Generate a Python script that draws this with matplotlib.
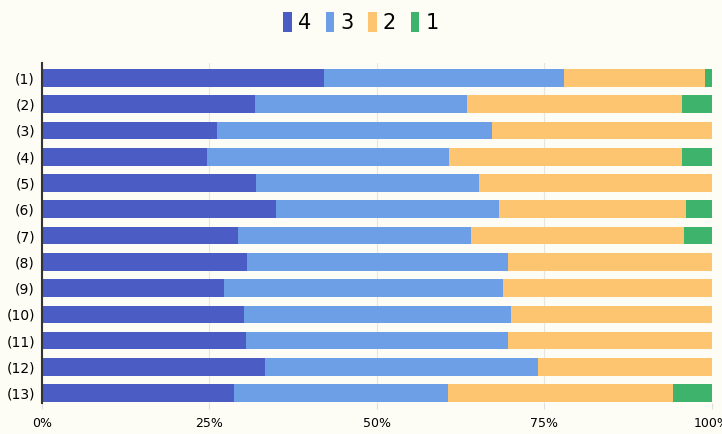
import numpy as np
import matplotlib.pyplot as plt

labels = ["(1)", "(2)", "(3)", "(4)", "(5)", "(6)", "(7)",
          "(8)", "(9)", "(10)", "(11)", "(12)", "(13)"]
# shares of each answer (% of bar)
s4 = [42.1, 31.8, 26.1, 24.6, 32.0, 34.9, 29.3, 30.6, 27.2, 30.1, 30.4, 33.3, 28.7]
s3 = [35.8, 31.7, 41.1, 36.1, 33.3, 33.4, 34.8, 39.0, 41.6, 39.9, 39.2, 40.8, 31.9]
s2 = [21.0, 32.1, 32.8, 34.9, 34.7, 27.9, 31.8, 30.4, 31.2, 30.0, 30.4, 25.9, 33.6]
s1 = [1.1, 4.4, 0.0, 4.4, 0.0, 3.8, 4.1, 0.0, 0.0, 0.0, 0.0, 0.0, 5.8]
series_names = ["4", "3", "2", "1"]
colors = ["#4b5cc4", "#6c9fe6", "#fdc56f", "#3db36c"]

bg = "#fdfdf6"
fig = plt.figure(figsize=(7.22, 4.34), dpi=100, facecolor=bg)
ax = fig.add_axes([0.058, 0.071, 0.928, 0.784], facecolor=bg)

y = np.arange(len(labels))
left = np.zeros(len(labels))
handles = []
for vals, name, c in zip([s4, s3, s2, s1], series_names, colors):
    h = ax.barh(y, vals, left=left, height=0.67, color=c, label=name, zorder=2)
    handles.append(h)
    left += np.array(vals)

ax.set_xlim(0, 100)
ax.set_ylim(12.38, -0.57)
ax.set_yticks(y)
ax.set_yticklabels(labels, fontsize=10)
ax.set_xticks([0, 25, 50, 75, 100])
ax.set_xticklabels(["0%", "25%", "50%", "75%", "100%"], fontsize=9)
ax.tick_params(axis="y", length=0, pad=5)
ax.tick_params(axis="x", length=4, color="#dddddd", pad=6)
ax.grid(axis="x", color="#e6e6e0", linewidth=0.8, zorder=0)

for side in ["top", "right", "bottom"]:
    ax.spines[side].set_visible(False)
ax.spines["left"].set_color("#333333")
ax.spines["left"].set_linewidth(1.5)

fig.legend(handles=handles, labels=series_names, loc="center",
           bbox_to_anchor=(0.5, 0.948), ncol=4, frameon=False,
           fontsize=15, handlelength=0.4, handleheight=1.1,
           handletextpad=0.3, columnspacing=0.7)

fig.savefig("out.png", dpi=100, facecolor=bg)
